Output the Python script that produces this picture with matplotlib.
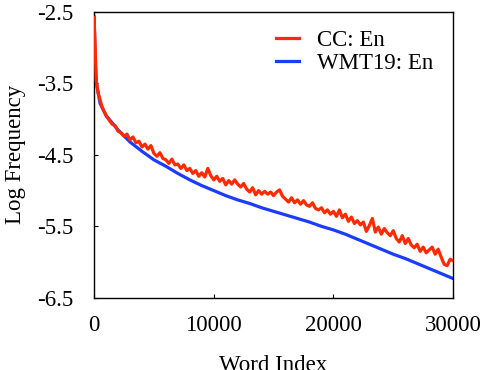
import matplotlib
matplotlib.use("Agg")
import matplotlib.pyplot as plt

plt.rcParams['font.family'] = ['Liberation Serif', 'DejaVu Serif']
plt.rcParams['axes.unicode_minus'] = False

# WMT19: En (smooth curve)
wmt_x = [0, 100, 200, 500, 1000, 1500, 2000, 3000, 4000, 5000, 6000, 7000, 8000, 9000,
         10000, 11000, 12000, 13000, 14000, 15000, 16000, 17000, 18000, 19000, 20000,
         21000, 22000, 23000, 24000, 25000, 26000, 27000, 28000, 29000, 30000]
wmt_y = [-2.57, -3.20, -3.50, -3.78, -3.95, -4.05, -4.15, -4.32, -4.45, -4.57, -4.66,
         -4.76, -4.85, -4.93, -5.00, -5.07, -5.13, -5.18, -5.24, -5.29, -5.34, -5.39,
         -5.44, -5.50, -5.55, -5.61, -5.68, -5.75, -5.82, -5.89, -5.95, -6.02, -6.09,
         -6.16, -6.23]

# CC: En (noisy curve)
cc_x = [0, 80, 170, 330, 670] + list(range(1000, 30001, 250))
cc_y = [-2.58, -2.93, -3.45, -3.63, -3.83,
        -3.95, -4.01, -4.07, -4.09,
        -4.17, -4.19, -4.24, -4.21,
        -4.29, -4.25, -4.33, -4.31,
        -4.39, -4.35, -4.42, -4.37,
        -4.48, -4.52, -4.47, -4.55,
        -4.57, -4.62, -4.56, -4.64,
        -4.63, -4.69, -4.64, -4.72,
        -4.69, -4.76, -4.72, -4.80,
        -4.75, -4.81, -4.69, -4.79,
        -4.85, -4.80, -4.87, -4.83,
        -4.92, -4.86, -4.91, -4.85,
        -4.91, -4.95, -4.90, -4.98,
        -5.02, -4.96, -5.06, -5.00,
        -5.05, -5.01, -5.05, -5.02,
        -5.07, -5.02, -4.99, -5.08,
        -5.12, -5.16, -5.10, -5.17,
        -5.13, -5.19, -5.14, -5.20,
        -5.22, -5.17, -5.25, -5.27,
        -5.24, -5.31, -5.27, -5.33,
        -5.29, -5.36, -5.27, -5.38,
        -5.33, -5.43, -5.37, -5.46,
        -5.42, -5.48, -5.44, -5.57,
        -5.49, -5.39, -5.58, -5.51,
        -5.61, -5.53, -5.59, -5.63,
        -5.56, -5.67, -5.72, -5.63,
        -5.74, -5.67, -5.76, -5.80,
        -5.75, -5.85, -5.79, -5.87,
        -5.83, -5.79, -5.89, -5.82,
        -5.93, -6.03, -6.05, -5.96,
        -5.98]

x_ticks = [0, 10000, 20000, 30000]
y_ticks = [-2.5, -3.5, -4.5, -5.5, -6.5]

fig = plt.figure(figsize=(4.8, 3.7), dpi=100)
ax = fig.add_axes([0.196, 0.195, 0.748, 0.773])

ax.plot(wmt_x, wmt_y, color='#1a3cff', lw=2.3, label='WMT19: En', zorder=2)
ax.plot(cc_x, cc_y, color='#ff2a00', lw=2.3, label='CC: En', zorder=3)
ax.set_xlim(0, 30000)
ax.set_ylim(-6.5, -2.5)
ax.set_xticks(x_ticks)
ax.set_xticklabels([str(t) for t in x_ticks])
ax.set_yticks(y_ticks)
ax.set_yticklabels([str(t) for t in y_ticks])
ax.tick_params(direction='in', length=3, width=0.8, labelsize=16.5)
ax.tick_params(axis='x', pad=12)
ax.tick_params(axis='y', pad=15)

for s in ax.spines.values():
    s.set_linewidth(1.0)

ax.set_xlabel('Word Index', fontsize=16.5, labelpad=14)
ax.set_ylabel('Log Frequency', fontsize=16.5, labelpad=8)

h, l = ax.get_legend_handles_labels()
ax.legend(h[::-1], l[::-1], loc='upper left', frameon=False, fontsize=16.5,
          handlelength=1.0, handletextpad=0.8, labelspacing=0.1, borderaxespad=0.0,
          bbox_to_anchor=(0.48, 0.97))

fig.savefig('out.png', dpi=100)
